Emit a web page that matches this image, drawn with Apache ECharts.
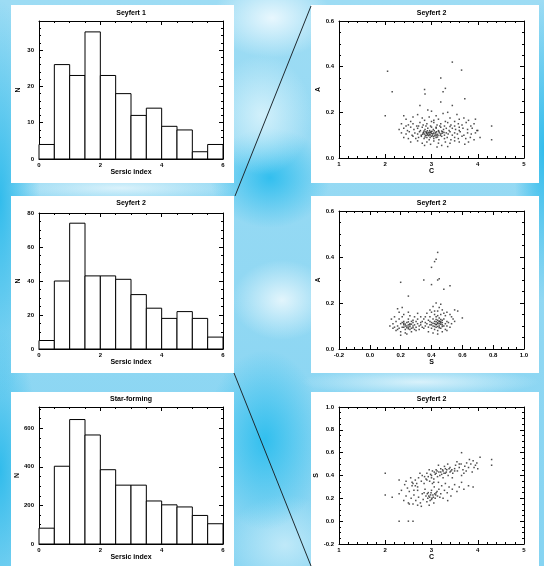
<!DOCTYPE html>
<html>
<head>
<meta charset="utf-8">
<script src="https://cdn.jsdelivr.net/npm/echarts@6/dist/echarts.min.js"></script>
<style>
html, body { margin: 0; padding: 0; }
body {
  width: 544px;
  height: 566px;
  overflow: hidden;
  background-color: #8ad5f2;
  background-image:
    radial-gradient(ellipse 60px 40px at 272px 18px, rgba(240,250,255,0.9), rgba(240,250,255,0)),
    radial-gradient(ellipse 50px 60px at 262px 115px, rgba(220,244,252,0.85), rgba(220,244,252,0)),
    radial-gradient(ellipse 60px 50px at 270px 178px, rgba(40,188,238,0.9), rgba(40,188,238,0)),
    radial-gradient(ellipse 50px 40px at 282px 300px, rgba(235,248,253,0.9), rgba(235,248,253,0)),
    radial-gradient(ellipse 60px 90px at 265px 440px, rgba(45,190,238,0.95), rgba(45,190,238,0)),
    radial-gradient(ellipse 60px 50px at 285px 545px, rgba(205,238,250,0.8), rgba(205,238,250,0)),
    radial-gradient(ellipse 40px 200px at 0px 200px, rgba(40,185,235,0.9), rgba(40,185,235,0)),
    radial-gradient(ellipse 40px 140px at 0px 470px, rgba(40,185,235,0.9), rgba(40,185,235,0)),
    radial-gradient(ellipse 120px 14px at 120px 188px, rgba(235,248,253,0.8), rgba(235,248,253,0)),
    radial-gradient(ellipse 120px 14px at 420px 382px, rgba(235,248,253,0.8), rgba(235,248,253,0)),
    radial-gradient(ellipse 30px 150px at 544px 150px, rgba(40,185,235,0.9), rgba(40,185,235,0)),
    linear-gradient(#9ddcf4, #86d4f2);
}
#chart { width: 544px; height: 566px; }
</style>
</head>
<body>
<div id="chart"></div>
<script>
// histogram bins (Sersic index)
const binStarts = [0, 0.5, 1, 1.5, 2, 2.5, 3, 3.5, 4, 4.5, 5, 5.5];
const binWidth = 0.5;
const seyfert1Counts = [4, 26, 23, 35, 23, 18, 12, 14, 9, 8, 2, 4];
const seyfert2Counts = [5, 40, 74, 43, 43, 41, 32, 24, 18, 22, 18, 7];
const starFormingCounts = [82, 403, 645, 565, 385, 305, 305, 223, 203, 192, 148, 105];

// Seyfert 2: concentration C vs asymmetry A
const caPoints = [
  [2.05,0.38],[2.15,0.29],[2.0,0.185],[3.45,0.42],[3.65,0.385],[3.2,0.35],[2.85,0.30],[2.86,0.28],[3.3,0.305],[3.25,0.29],
  [3.72,0.26],[3.2,0.245],[4.3,0.14],[4.3,0.08],[2.75,0.23],[3.45,0.23],[2.92,0.21],[3.0,0.205],[3.55,0.19],[2.4,0.185],
  [3.35,0.2],[3.95,0.17],[4.0,0.12],[4.05,0.09],
  [2.45,0.17],[2.6,0.18],[2.7,0.19],[2.8,0.175],[2.95,0.18],[3.1,0.185],[3.15,0.17],[3.25,0.195],[3.4,0.175],[3.6,0.17],
  [3.8,0.165],[3.5,0.16],[2.55,0.16],[3.05,0.165],[3.3,0.16],[2.85,0.165],[3.7,0.175],
  [2.35,0.15],[2.5,0.145],[2.6,0.15],[2.68,0.14],[2.75,0.155],[2.82,0.145],[2.9,0.15],[2.98,0.14],[3.05,0.155],[3.12,0.145],
  [3.2,0.15],[3.28,0.14],[3.35,0.155],[3.42,0.145],[3.5,0.14],[3.58,0.15],[3.66,0.145],[3.75,0.155],[3.85,0.14],[3.92,0.15],
  [2.45,0.14],[3.0,0.16],[3.6,0.135],[3.1,0.135],
  [2.3,0.125],[2.4,0.13],[2.48,0.12],[2.55,0.135],[2.62,0.125],[2.7,0.13],[2.76,0.12],[2.8,0.135],[2.86,0.125],[2.92,0.13],
  [2.96,0.12],[3.0,0.135],[3.04,0.125],[3.1,0.13],[3.15,0.12],[3.2,0.135],[3.26,0.125],[3.32,0.13],[3.38,0.12],[3.45,0.13],
  [3.52,0.125],[3.6,0.12],[3.68,0.13],[3.78,0.125],[3.88,0.13],[3.98,0.12],[2.88,0.14],[3.18,0.14],[2.72,0.14],[3.4,0.138],
  [2.35,0.11],[2.45,0.105],[2.52,0.115],[2.58,0.1],[2.64,0.11],[2.7,0.105],[2.74,0.115],[2.78,0.1],[2.82,0.11],[2.85,0.105],
  [2.88,0.115],[2.9,0.1],[2.93,0.11],[2.96,0.105],[2.99,0.115],[3.02,0.1],[3.05,0.11],[3.08,0.105],[3.11,0.115],[3.14,0.1],
  [3.17,0.11],[3.2,0.105],[3.24,0.115],[3.28,0.1],[3.32,0.11],[3.36,0.105],[3.4,0.115],[3.45,0.1],[3.5,0.11],[3.56,0.105],
  [3.62,0.115],[3.7,0.1],[3.78,0.11],[3.86,0.105],[3.95,0.11],[2.84,0.118],[2.94,0.098],[3.0,0.108],[3.1,0.098],[3.22,0.118],
  [2.98,0.112],[2.9,0.108],
  [2.81,0.104],[2.83,0.113],[2.87,0.099],[2.89,0.111],[2.91,0.119],[2.92,0.103],[2.95,0.113],[2.97,0.101],[3.01,0.117],[3.03,0.106],
  [3.06,0.119],[3.07,0.097],[3.09,0.112],[3.12,0.104],[3.16,0.116],[3.19,0.099],[3.23,0.108],[3.27,0.112],[2.86,0.092],[3.04,0.094],
  [2.4,0.09],[2.5,0.085],[2.6,0.095],[2.66,0.085],[2.72,0.09],[2.78,0.095],[2.84,0.085],[2.9,0.09],[2.95,0.08],[3.0,0.095],
  [3.05,0.085],[3.1,0.09],[3.16,0.08],[3.22,0.095],[3.28,0.085],[3.34,0.09],[3.42,0.08],[3.5,0.09],[3.58,0.085],[3.66,0.095],
  [3.74,0.085],[3.84,0.09],[3.92,0.08],[2.97,0.09],[3.13,0.092],
  [2.55,0.07],[2.7,0.075],[2.8,0.065],[2.9,0.07],[2.98,0.06],[3.05,0.075],[3.15,0.065],[3.22,0.055],[3.3,0.07],[3.4,0.065],
  [3.5,0.075],[3.6,0.07],[3.8,0.07],[3.35,0.05],[2.85,0.055],[3.12,0.048],[3.72,0.06]
];

// Seyfert 2: smoothness S vs asymmetry A
const saPoints = [
  [0.44,0.42],[0.43,0.39],[0.42,0.38],[0.4,0.355],[0.45,0.305],[0.44,0.3],[0.35,0.3],[0.2,0.29],[0.4,0.28],[0.48,0.26],
  [0.52,0.275],[0.25,0.23],[0.6,0.135],[0.57,0.165],[0.55,0.17],
  [0.15,0.11],[0.16,0.095],[0.17,0.12],[0.18,0.1],[0.18,0.085],[0.19,0.13],[0.2,0.11],[0.2,0.075],[0.21,0.095],[0.21,0.14],
  [0.22,0.105],[0.22,0.12],[0.23,0.085],[0.23,0.1],[0.24,0.115],[0.24,0.065],[0.25,0.095],[0.25,0.13],[0.26,0.105],[0.26,0.11],
  [0.27,0.09],[0.27,0.12],[0.28,0.1],[0.28,0.115],[0.29,0.085],[0.29,0.105],[0.3,0.12],[0.3,0.095],[0.31,0.11],[0.31,0.13],
  [0.32,0.1],[0.32,0.085],[0.33,0.115],[0.33,0.105],[0.34,0.095],[0.14,0.13],[0.16,0.14],[0.19,0.16],[0.22,0.15],[0.26,0.145],
  [0.29,0.14],[0.17,0.08],[0.2,0.06],[0.23,0.07],[0.27,0.075],[0.3,0.08],[0.24,0.1],[0.25,0.105],[0.21,0.115],[0.19,0.09],
  [0.28,0.125],[0.15,0.09],[0.13,0.1],[0.34,0.12],[0.22,0.095],[0.26,0.085],[0.18,0.175],[0.21,0.18],[0.25,0.16],[0.31,0.155],
  [0.36,0.1],[0.35,0.13],
  [0.23,0.108],[0.24,0.092],[0.25,0.118],[0.26,0.098],[0.27,0.108],[0.22,0.112],[0.28,0.092],[0.25,0.088],
  [0.37,0.11],[0.38,0.095],[0.38,0.125],[0.39,0.105],[0.39,0.14],[0.4,0.115],[0.4,0.09],[0.41,0.1],[0.41,0.13],[0.42,0.11],
  [0.42,0.12],[0.42,0.085],[0.43,0.105],[0.43,0.14],[0.43,0.095],[0.44,0.115],[0.44,0.125],[0.44,0.08],[0.45,0.1],[0.45,0.11],
  [0.45,0.135],[0.46,0.12],[0.46,0.09],[0.46,0.15],[0.47,0.105],[0.47,0.115],[0.48,0.1],[0.48,0.13],[0.49,0.11],[0.49,0.085],
  [0.5,0.12],[0.5,0.1],[0.51,0.115],[0.52,0.095],[0.53,0.11],[0.54,0.13],[0.36,0.14],[0.37,0.155],[0.39,0.17],[0.4,0.16],
  [0.41,0.185],[0.42,0.15],[0.43,0.2],[0.44,0.165],[0.45,0.18],[0.46,0.195],[0.47,0.17],[0.48,0.155],[0.44,0.145],[0.42,0.165],
  [0.49,0.145],[0.5,0.16],[0.52,0.15],[0.38,0.075],[0.41,0.07],[0.44,0.065],[0.47,0.075],[0.5,0.08],[0.4,0.105],[0.43,0.118],
  [0.45,0.122],[0.41,0.112],[0.46,0.108],[0.39,0.12],[0.47,0.125],[0.35,0.09],[0.36,0.115],[0.53,0.14],[0.55,0.12],[0.33,0.14],
  [0.43,0.108],[0.44,0.098],[0.45,0.118],[0.46,0.128],[0.44,0.11],[0.42,0.098],[0.47,0.098],[0.45,0.092],[0.43,0.128],[0.46,0.114]
];

// Seyfert 2: concentration C vs smoothness S
const csPoints = [
  [2.0,0.42],[2.0,0.23],[2.15,0.21],[2.3,0.0],[2.5,0.0],[2.6,0.0],[3.65,0.6],[4.3,0.54],[4.3,0.49],[4.05,0.56],[2.3,0.36],
  [2.6,0.33],[2.65,0.36],[2.7,0.3],[2.72,0.38],[2.78,0.35],[2.8,0.4],[2.84,0.33],[2.88,0.37],[2.9,0.42],[2.93,0.39],
  [2.96,0.35],[3.0,0.4],[3.02,0.44],[3.05,0.37],[3.08,0.41],[3.1,0.45],[3.13,0.39],[3.16,0.43],[3.2,0.46],[3.22,0.41],
  [3.25,0.44],[3.28,0.48],[3.3,0.42],[3.33,0.45],[3.36,0.4],[3.4,0.47],[3.42,0.44],[3.46,0.42],[3.5,0.46],[3.52,0.49],
  [3.56,0.44],[3.6,0.47],[3.64,0.5],[3.68,0.45],[3.72,0.48],[3.76,0.51],[3.8,0.47],[3.85,0.5],[3.9,0.53],[3.95,0.49],
  [4.0,0.46],[3.88,0.43],[3.7,0.42],[3.55,0.52],[3.35,0.5],[3.15,0.49],[2.95,0.45],[2.75,0.42],[3.05,0.34],[3.25,0.38],
  [3.45,0.38],[3.65,0.4],[3.82,0.54],[3.98,0.51],[3.1,0.42],[3.2,0.43],[3.0,0.38],[2.85,0.39],[3.3,0.46],[3.4,0.43],
  [3.5,0.44],[2.9,0.36],[3.18,0.4],[3.6,0.5],[2.68,0.33],[2.55,0.38],[2.62,0.27],[3.75,0.44],[3.92,0.47],
  [3.12,0.44],[3.24,0.45],[3.32,0.43],[3.38,0.46],[3.44,0.45],[2.98,0.41],[3.06,0.43],[3.27,0.42],
  [2.4,0.18],[2.45,0.22],[2.5,0.16],[2.52,0.26],[2.56,0.2],[2.6,0.15],[2.62,0.23],[2.66,0.18],[2.7,0.27],[2.72,0.21],
  [2.76,0.16],[2.8,0.24],[2.82,0.19],[2.86,0.28],[2.88,0.22],[2.9,0.17],[2.93,0.25],[2.96,0.21],[3.0,0.19],[3.0,0.27],
  [3.03,0.23],[3.06,0.3],[3.08,0.2],[3.1,0.25],[3.13,0.22],[3.16,0.28],[3.2,0.24],[3.22,0.31],[3.25,0.2],[3.28,0.27],
  [3.3,0.33],[3.34,0.25],[3.38,0.3],[3.42,0.22],[3.45,0.28],[3.5,0.32],[3.55,0.26],[3.6,0.3],[3.65,0.34],[3.7,0.28],
  [3.8,0.31],[3.9,0.3],[2.95,0.14],[3.05,0.16],[2.78,0.13],[2.58,0.31],[2.48,0.29],[2.42,0.32],[2.35,0.27],[2.3,0.24],
  [2.98,0.23],[3.12,0.26],[2.92,0.2],[2.84,0.25],[3.18,0.21],[3.35,0.18],[2.7,0.14],[2.52,0.15],[2.65,0.31],[3.02,0.33],
  [3.15,0.34],[2.45,0.35],[2.58,0.34],
  [2.94,0.22],[2.99,0.25],[3.04,0.21],[3.07,0.24],[2.91,0.24],[3.01,0.2],[3.09,0.23],[2.97,0.18]
];

const fontFamily = 'Liberation Sans, Arial, sans-serif';

const panels = [
  { grid: { left: 39, top: 21, width: 184, height: 138 }, box: [11, 5, 223, 178], title: 'Seyfert 1', titleY: 13,
    x: { min: 0, max: 6, interval: 2, minor: 4, name: 'Sersic index', dec: 0 },
    y: { min: 0, max: 38, interval: 10, minor: 5, name: 'N', dec: 0, hideMax: true },
    hist: seyfert1Counts },
  { grid: { left: 39, top: 213, width: 184, height: 136 }, box: [11, 196, 223, 177], title: 'Seyfert 2', titleY: 203,
    x: { min: 0, max: 6, interval: 2, minor: 4, name: 'Sersic index', dec: 0 },
    y: { min: 0, max: 80, interval: 20, minor: 4, name: 'N', dec: 0 },
    hist: seyfert2Counts },
  { grid: { left: 39, top: 407, width: 184, height: 137 }, box: [11, 392, 223, 174], title: 'Star-forming', titleY: 399,
    x: { min: 0, max: 6, interval: 2, minor: 4, name: 'Sersic index', dec: 0 },
    y: { min: 0, max: 710, interval: 200, minor: 4, name: 'N', dec: 0, hideMax: true },
    hist: starFormingCounts },
  { grid: { left: 339, top: 21, width: 185, height: 137 }, box: [311, 5, 228, 178], title: 'Seyfert 2', titleY: 13,
    x: { min: 1, max: 5, interval: 1, minor: 5, name: 'C', dec: 0 },
    y: { min: 0, max: 0.6, interval: 0.2, minor: 4, name: 'A', dec: 1 },
    points: caPoints },
  { grid: { left: 339, top: 211, width: 185, height: 138 }, box: [311, 196, 228, 177], title: 'Seyfert 2', titleY: 203,
    x: { min: -0.2, max: 1.0, interval: 0.2, minor: 4, name: 'S', dec: 1 },
    y: { min: 0, max: 0.6, interval: 0.2, minor: 4, name: 'A', dec: 1 },
    points: saPoints },
  { grid: { left: 339, top: 407, width: 185, height: 137 }, box: [311, 392, 228, 174], title: 'Seyfert 2', titleY: 399,
    x: { min: 1, max: 5, interval: 1, minor: 5, name: 'C', dec: 0 },
    y: { min: -0.2, max: 1.0, interval: 0.2, minor: 4, name: 'S', dec: 1 },
    points: csPoints }
];

function fmt(dec) {
  return (v) => {
    if (Math.abs(v) < 1e-9) v = 0;
    return v.toFixed(dec);
  };
}

function baseAxis(gridIndex, r, position, withLabels) {
  return {
    type: 'value',
    gridIndex,
    position,
    min: r.min,
    max: r.max,
    interval: r.interval,
    axisLine: { show: true, onZero: false, lineStyle: { color: '#000', width: 1 } },
    axisTick: { show: true, inside: true, length: 4, lineStyle: { color: '#000', width: 1 } },
    minorTick: { show: true, splitNumber: r.minor, length: 2, lineStyle: { color: '#000', width: 1 } },
    splitLine: { show: false },
    axisLabel: {
      show: withLabels,
      formatter: fmt(r.dec),
      fontSize: 6,
      fontWeight: 'bold',
      fontFamily,
      color: '#000',
      margin: 3,
      showMaxLabel: !r.hideMax
    }
  };
}

const xAxis = [];
const yAxis = [];
const series = [];
const graphic = [];

panels.forEach((p, i) => {
  const xMain = baseAxis(i, p.x, 'bottom', true);
  xMain.name = p.x.name;
  xMain.nameLocation = 'middle';
  xMain.nameGap = 10;
  xMain.nameTextStyle = { fontSize: 7, fontWeight: 'bold', fontFamily, color: '#000' };
  xAxis.push(xMain, baseAxis(i, p.x, 'top', false));

  const yMain = baseAxis(i, p.y, 'left', true);
  yMain.axisLabel.margin = 5;
  yMain.name = p.y.name;
  yMain.nameLocation = 'middle';
  yMain.nameGap = 17;
  yMain.nameTextStyle = { fontSize: 7, fontWeight: 'bold', fontFamily, color: '#000' };
  yAxis.push(yMain, baseAxis(i, p.y, 'right', false));

  if (p.hist) {
    series.push({
      type: 'custom',
      xAxisIndex: 2 * i,
      yAxisIndex: 2 * i,
      silent: true,
      animation: false,
      encode: { x: [0, 1], y: 2 },
      data: binStarts.map((s, k) => [s, s + binWidth, p.hist[k]]),
      renderItem: (params, api) => {
        const a = api.coord([api.value(0), api.value(2)]);
        const b = api.coord([api.value(1), 0]);
        return {
          type: 'rect',
          shape: { x: a[0], y: a[1], width: b[0] - a[0], height: b[1] - a[1] },
          style: { fill: '#fff', stroke: '#000', lineWidth: 1 }
        };
      }
    });
  } else {
    series.push({
      type: 'scatter',
      xAxisIndex: 2 * i,
      yAxisIndex: 2 * i,
      silent: true,
      animation: false,
      symbol: 'rect',
      symbolSize: 1.5,
      itemStyle: { color: '#222' },
      data: p.points
    });
  }

  graphic.push({
    type: 'rect',
    z: -10,
    silent: true,
    shape: { x: p.box[0], y: p.box[1], width: p.box[2], height: p.box[3] },
    style: { fill: '#fff' }
  });
  graphic.push({
    type: 'text',
    z: 10,
    silent: true,
    x: p.grid.left + p.grid.width / 2,
    y: p.titleY,
    style: {
      text: p.title,
      font: 'bold 7px ' + fontFamily,
      fill: '#000',
      textAlign: 'center',
      textVerticalAlign: 'middle'
    }
  });
});

graphic.push(
  { type: 'line', z: 10, silent: true, shape: { x1: 235, y1: 196, x2: 311, y2: 6 }, style: { stroke: '#1e2a30', lineWidth: 1 } },
  { type: 'line', z: 10, silent: true, shape: { x1: 234, y1: 373, x2: 311, y2: 566 }, style: { stroke: '#1e2a30', lineWidth: 1 } }
);

const myChart = echarts.init(document.getElementById('chart'));
myChart.setOption({
  backgroundColor: 'transparent',
  animation: false,
  grid: panels.map((p) => ({ ...p.grid, containLabel: false })),
  xAxis,
  yAxis,
  series,
  graphic
});
</script>
</body>
</html>
